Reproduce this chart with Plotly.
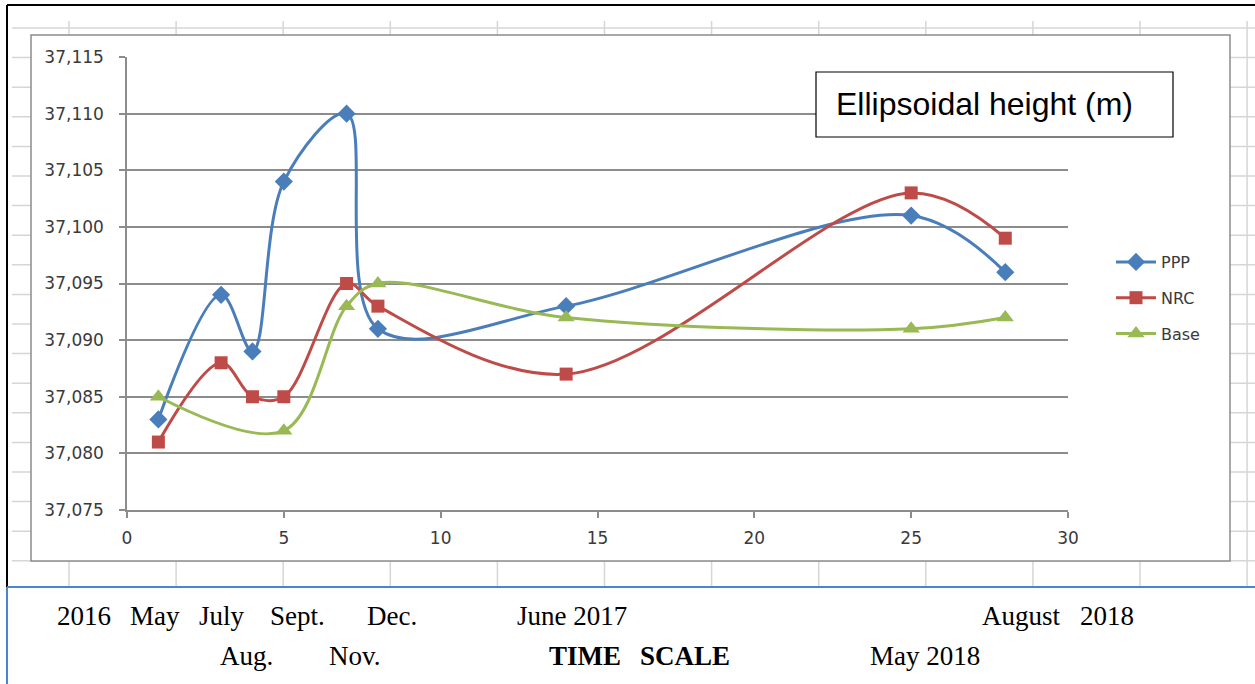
import plotly.graph_objects as go

# ---------------- data ----------------
ppp_x = [1, 3, 4, 5, 7, 8, 14, 25, 28]
ppp_y = [37.083, 37.094, 37.089, 37.104, 37.110, 37.091, 37.093, 37.101, 37.096]
nrc_x = [1, 3, 4, 5, 7, 8, 14, 25, 28]
nrc_y = [37.081, 37.088, 37.085, 37.085, 37.095, 37.093, 37.087, 37.103, 37.099]
base_x = [1, 5, 7, 8, 14, 25, 28]
base_y = [37.085, 37.082, 37.093, 37.095, 37.092, 37.091, 37.092]

series_names = ["PPP", "NRC", "Base"]
series_colors = ["#4a7ebb", "#be4b48", "#98b954"]
series_symbols = ["diamond", "square", "triangle-up"]
series_sizes = [14, 13, 15]

line1_labels = [("2016", 55), ("May", 128), ("July", 197), ("Sept.", 268), ("Dec.", 365),
                ("June 2017", 515), ("August", 980), ("2018", 1078)]
line2_labels = [("Aug.", 218), ("Nov.", 327), ("<b>TIME</b>", 547), ("<b>SCALE</b>", 638),
                ("May 2018", 868)]
box_title = "Ellipsoidal height (m)"

# ---------------- geometry helpers ----------------
W, H = 1255, 684
L, R, T, B = 127, 1068, 57, 510


def xp(px):
    return (px - L) / (R - L)


def yp(py):
    return (B - py) / (B - T)


fig = go.Figure()
for xs, ys, name, col, sym, sz in zip([ppp_x, nrc_x, base_x], [ppp_y, nrc_y, base_y],
                                      series_names, series_colors, series_symbols, series_sizes):
    fig.add_trace(go.Scatter(
        x=xs, y=ys, name=name, mode="lines+markers",
        line=dict(color=col, width=3, shape="spline", smoothing=1.0),
        marker=dict(symbol=sym, size=sz, color=col),
        legendgroup=name,
    ))

shapes = []
grid_col = "#d6d6d6"
# spreadsheet gridlines (background)
y = 28.0
while y <= 587:
    shapes.append(dict(type="line", xref="paper", yref="paper", layer="below",
                       x0=xp(12), x1=xp(1255), y0=yp(y), y1=yp(y),
                       line=dict(color=grid_col, width=1.5)))
    y += 29.6
x = 69.0
while x <= 1255:
    shapes.append(dict(type="line", xref="paper", yref="paper", layer="below",
                       x0=xp(x), x1=xp(x), y0=yp(21), y1=yp(587),
                       line=dict(color=grid_col, width=1.5)))
    x += 107.1
# chart area
shapes.append(dict(type="rect", xref="paper", yref="paper", layer="below",
                   x0=xp(31), x1=xp(1230), y0=yp(35), y1=yp(561),
                   fillcolor="white", line=dict(color="#8c8c8c", width=1.5)))
# document borders
shapes.append(dict(type="line", xref="paper", yref="paper", layer="below",
                   x0=xp(7), x1=xp(1256), y0=yp(5), y1=yp(5),
                   line=dict(color="black", width=2)))
shapes.append(dict(type="line", xref="paper", yref="paper", layer="below",
                   x0=xp(7), x1=xp(7), y0=yp(5), y1=yp(587),
                   line=dict(color="black", width=2)))
shapes.append(dict(type="line", xref="paper", yref="paper", layer="below",
                   x0=xp(7), x1=xp(1256), y0=yp(587), y1=yp(587),
                   line=dict(color="#4a86d0", width=2)))
shapes.append(dict(type="line", xref="paper", yref="paper", layer="below",
                   x0=xp(7), x1=xp(7), y0=yp(587), y1=yp(690),
                   line=dict(color="#4a86d0", width=2)))
# title box
shapes.append(dict(type="rect", xref="paper", yref="paper", layer="above",
                   x0=xp(816), x1=xp(1173), y0=yp(72), y1=yp(137),
                   fillcolor="white", line=dict(color="black", width=1.2)))

annotations = [dict(text=box_title, xref="paper", yref="paper", x=xp(834), y=yp(104),
                    xanchor="left", yanchor="middle", showarrow=False,
                    font=dict(family="Liberation Sans, Arial", size=32, color="black"))]
for txt, px in line1_labels:
    annotations.append(dict(text=txt, xref="paper", yref="paper", x=xp(px), y=yp(616),
                            xanchor="left", yanchor="middle", showarrow=False,
                            font=dict(family="Liberation Serif, Times New Roman", size=27,
                                      color="black")))
for txt, px in line2_labels:
    annotations.append(dict(text=txt, xref="paper", yref="paper", x=xp(px), y=yp(656),
                            xanchor="left", yanchor="middle", showarrow=False,
                            font=dict(family="Liberation Serif, Times New Roman", size=27,
                                      color="black")))

tick_font = dict(family="DejaVu Sans, Verdana", size=17, color="#3a3a3a")
fig.update_layout(
    width=W, height=H,
    margin=dict(l=L, r=W - R, t=T, b=H - B, pad=0),
    paper_bgcolor="white", plot_bgcolor="rgba(0,0,0,0)",
    separators=",.",
    showlegend=True,
    legend=dict(x=xp(1111), y=yp(298), xanchor="left", yanchor="middle",
                bgcolor="rgba(0,0,0,0)", font=dict(family="DejaVu Sans, Verdana", size=16,
                                                     color="#3a3a3a"),
                tracegroupgap=12, itemwidth=40),
    xaxis=dict(range=[0, 30], dtick=5, tick0=0, showgrid=False, zeroline=False,
               showline=True, linecolor="#8c8c8c", linewidth=1.5,
               ticks="outside", ticklen=6, tickcolor="#8c8c8c", tickwidth=1.5,
               tickfont=tick_font, ticklabelstandoff=6),
    yaxis=dict(range=[37.075, 37.115], dtick=0.005, tick0=37.075, tickformat=".3f",
               showgrid=True, gridcolor="#8c8c8c", gridwidth=1.5, zeroline=False,
               showline=True, linecolor="#8c8c8c", linewidth=1.5,
               ticks="outside", ticklen=6, tickcolor="#8c8c8c", tickwidth=1.5,
               tickfont=tick_font, ticklabelstandoff=12),
    shapes=shapes,
    annotations=annotations,
)

fig.write_html("out.html")
